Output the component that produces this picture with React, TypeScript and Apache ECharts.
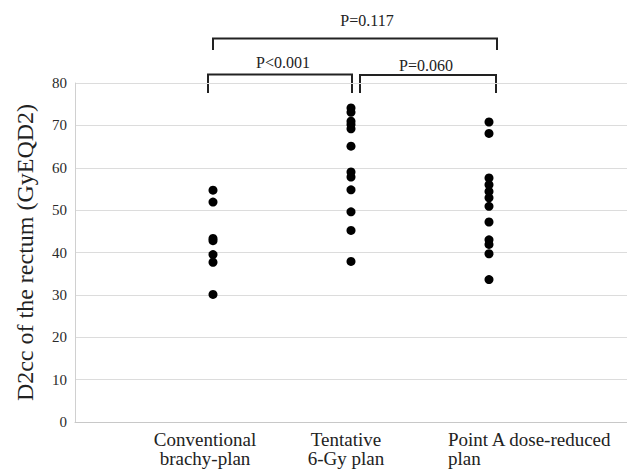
import React, { useEffect, useRef } from "react";
import * as echarts from "echarts";

const categories = ["Conventional\nbrachy-plan", "Tentative\n6-Gy plan", "Point A dose-reduced\nplan"];
const conventional = [54.7, 51.9, 43.3, 42.8, 39.5, 37.7, 30.1];
const tentative = [74.1, 73.1, 71.0, 70.2, 69.2, 65.1, 59.0, 57.8, 54.8, 49.6, 45.2, 37.9];
const pointAReduced = [70.8, 68.1, 57.6, 56.0, 54.4, 52.9, 50.9, 47.2, 43.0, 41.9, 39.7, 33.6];
const yTicks = [0, 10, 20, 30, 40, 50, 60, 70, 80];
const pLabels = ["P=0.117", "P<0.001", "P=0.060"];
const yTitle = "D2cc of the rectum (GyEQD2)";

const SERIF = "Liberation Serif";

export default function App() {
  const ref = useRef<HTMLDivElement>(null);
  useEffect(() => {
    if (!ref.current) return;
    const chart = echarts.init(ref.current, undefined, { renderer: "svg" });
    const groups = [conventional, tentative, pointAReduced];
    const data: number[][] = [];
    groups.forEach((g, i) => g.forEach((v) => data.push([i + 1, v])));
    const textColor = "#222";
    const bracket = (pts: number[][]) => ({
      type: "polyline",
      shape: { points: pts },
      style: { stroke: "#222", lineWidth: 2, fill: "none" },
      silent: true,
    });
    const label = (text: string, x: number, y: number, size: number, align: string, vAlign: string) => ({
      type: "text",
      x,
      y,
      style: {
        text,
        fill: textColor,
        fontFamily: SERIF,
        fontSize: size,
        textAlign: align,
        textVerticalAlign: vAlign,
        lineHeight: 19,
      },
      silent: true,
    });
    chart.setOption({
      animation: false,
      backgroundColor: "#fff",
      grid: { left: 75, right: -8, top: 83, bottom: 49, containLabel: false },
      xAxis: {
        type: "value",
        min: 0,
        max: 4,
        interval: 1,
        axisLine: { show: true, lineStyle: { color: "#c8c8c8", width: 1 } },
        axisTick: { show: false },
        axisLabel: { show: false },
        splitLine: { show: false },
      },
      yAxis: {
        type: "value",
        min: yTicks[0],
        max: yTicks[yTicks.length - 1],
        interval: 10,
        name: yTitle,
        nameLocation: "middle",
        nameGap: 38,
        nameTextStyle: { fontFamily: SERIF, fontSize: 24, color: textColor },
        axisLine: { show: true, lineStyle: { color: "#d0d0d0", width: 1 } },
        axisTick: { show: false },
        axisLabel: { fontFamily: SERIF, fontSize: 15, color: "#2a2a2a", margin: 8 },
        splitLine: { show: true, lineStyle: { color: "#dcdcdc", width: 1 } },
      },
      series: [
        {
          type: "scatter",
          data,
          symbol: "circle",
          symbolSize: 9,
          itemStyle: { color: "#000", opacity: 1 },
        },
      ],
      graphic: [
        bracket([[213, 50], [213, 38.5], [497, 38.5], [497, 50]]),
        bracket([[208, 93], [208, 74.5], [352, 74.5], [352, 93]]),
        bracket([[360, 93], [360, 75], [496, 75], [496, 93]]),
        label(pLabels[0], 367, 20, 16, "center", "middle"),
        label(pLabels[1], 283, 62, 16, "center", "middle"),
        label(pLabels[2], 426, 65, 16, "center", "middle"),
        label(categories[0], 205, 430, 19, "center", "top"),
        label(categories[1], 346, 430, 19, "center", "top"),
        label(categories[2], 448, 430, 19, "left", "top"),
      ],
    });
    return () => chart.dispose();
  }, []);
  return <div ref={ref} style={{ width: 627, height: 471, position: "absolute", left: 0, top: 0 }} />;
}
